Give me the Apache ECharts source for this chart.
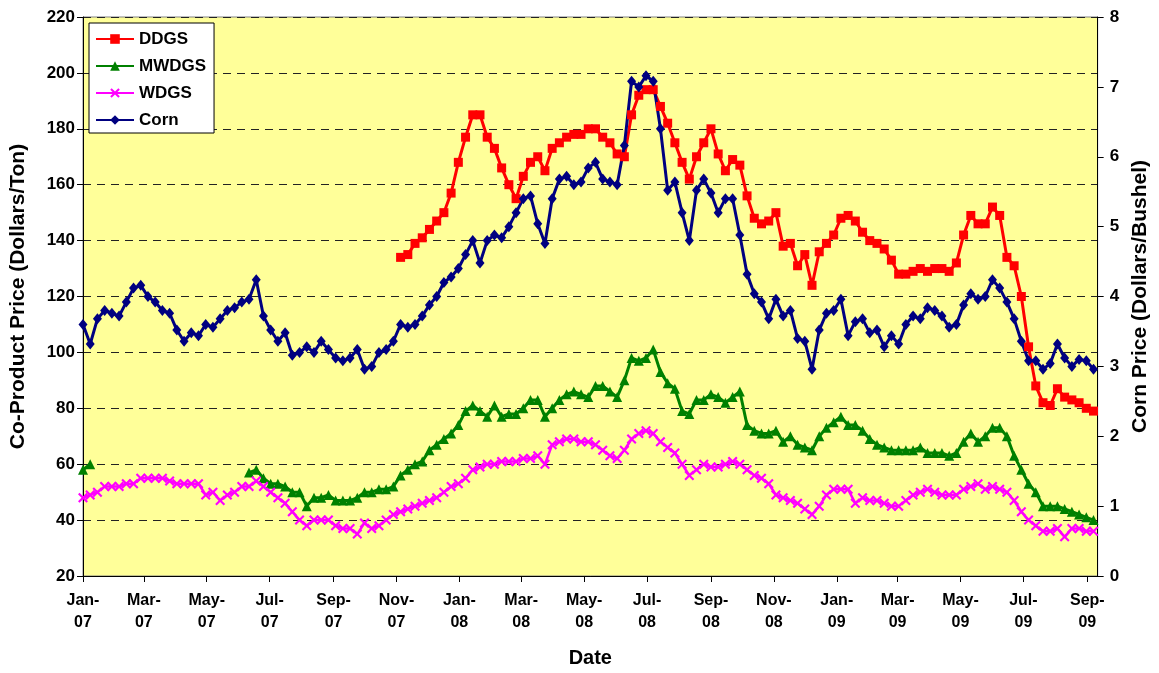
<!DOCTYPE html>
<html>
<head>
<meta charset="utf-8">
<script src="https://cdn.jsdelivr.net/npm/echarts@6/dist/echarts.min.js"></script>
<style>
html,body{margin:0;padding:0;background:#fff;overflow:hidden;}
#chart{width:1159px;height:673px;}
</style>
</head>
<body>
<div id="chart"></div>
<script>
// ---- sampling schedule (weekly observations) ----
const firstWeek = '2007-01-01';
const weekCount = 141;
const axisStart = '2007-01-01';
const axisEnd = '2009-09-11';

// ---- x tick positions and labels ----
const tickDates = ['2007-01-01','2007-03-01','2007-05-01','2007-07-01','2007-09-01','2007-11-01',
  '2008-01-01','2008-03-01','2008-05-01','2008-07-01','2008-09-01','2008-11-01',
  '2009-01-01','2009-03-01','2009-05-01','2009-07-01','2009-09-01'];
const tickLabels = ['Jan-\n07','Mar-\n07','May-\n07','Jul-\n07','Sep-\n07','Nov-\n07',
  'Jan-\n08','Mar-\n08','May-\n08','Jul-\n08','Sep-\n08','Nov-\n08',
  'Jan-\n09','Mar-\n09','May-\n09','Jul-\n09','Sep-\n09'];

// ---- series values ($/ton; corn in $/bushel) ----
const ddgs = [
  null,null,null,null,null,null,null,null,null,null,
  null,null,null,null,null,null,null,null,null,null,
  null,null,null,null,null,null,null,null,null,null,
  null,null,null,null,null,null,null,null,null,null,
  null,null,null,null,
  134,135,139,141,144,147,150,157,168,177,
  185,185,177,173,166,160,155,163,168,170,
  165,173,175,177,178,178,180,180,177,175,
  171,170,185,192,194,194,188,182,175,168,
  162,170,175,180,171,165,169,167,156,148,
  146,147,150,138,139,131,135,124,136,139,
  142,148,149,147,143,140,139,137,133,128,
  128,129,130,129,130,130,129,132,142,149,
  146,146,152,149,134,131,120,102,88,82,
  81,87,84,83,82,80,79];
const mwdgs = [
  58,60,
  null,null,null,null,null,null,null,null,null,null,
  null,null,null,null,null,null,null,null,null,null,null,
  57,58,55,53,53,52,50,
  50,45,48,48,49,47,47,47,48,50,
  50,51,51,52,56,58,60,61,65,67,
  69,71,74,79,81,79,77,81,77,78,
  78,80,83,83,77,80,83,85,86,85,
  84,88,88,86,84,90,98,97,98,101,
  93,89,87,79,78,83,83,85,84,82,
  84,86,74,72,71,71,72,68,70,67,
  66,65,70,73,75,77,74,74,72,69,
  67,66,65,65,65,65,66,64,64,64,
  63,64,68,71,68,70,73,73,70,63,
  58,53,50,45,45,45,44,43,42,41,
  40];
const wdgs = [
  48,49,50,52,52,52,53,53,55,55,
  55,55,54,53,53,53,53,49,50,47,
  49,50,52,52,54,52,50,48,46,43,
  40,38,40,40,40,38,37,37,35,39,
  37,38,40,42,43,44,45,46,47,48,
  50,52,53,55,58,59,60,60,61,61,
  61,62,62,63,60,67,68,69,69,68,
  68,67,65,63,62,65,69,71,72,71,
  68,66,64,60,56,58,60,59,59,60,
  61,60,58,56,55,53,49,48,47,46,
  44,42,45,49,51,51,51,46,48,47,
  47,46,45,45,47,49,50,51,50,49,
  49,49,51,52,53,51,52,51,50,47,
  43,40,38,36,36,37,34,37,37,36,
  36];
const corn = [
  3.60,3.32,3.68,3.80,3.76,3.72,3.92,4.12,4.16,4.00,
  3.92,3.80,3.76,3.52,3.36,3.48,3.44,3.60,3.56,3.68,
  3.80,3.84,3.92,3.96,4.24,3.72,3.52,3.36,3.48,3.16,
  3.20,3.28,3.20,3.36,3.24,3.12,3.08,3.12,3.24,2.96,
  3.00,3.20,3.24,3.36,3.60,3.56,3.60,3.72,3.88,4.00,
  4.20,4.28,4.40,4.60,4.80,4.48,4.80,4.88,4.84,5.00,
  5.20,5.40,5.44,5.04,4.76,5.40,5.68,5.72,5.60,5.64,
  5.84,5.92,5.68,5.64,5.60,6.16,7.08,7.00,7.16,7.08,
  6.40,5.52,5.64,5.20,4.80,5.52,5.68,5.48,5.20,5.40,
  5.40,4.88,4.32,4.04,3.92,3.68,3.96,3.72,3.80,3.40,
  3.36,2.96,3.52,3.76,3.80,3.96,3.44,3.64,3.68,3.48,
  3.52,3.28,3.44,3.32,3.60,3.72,3.68,3.84,3.80,3.72,
  3.56,3.60,3.88,4.04,3.96,4.00,4.24,4.12,3.92,3.68,
  3.36,3.08,3.08,2.96,3.04,3.32,3.12,3.00,3.10,3.08,
  2.96];

// ---- build ----
const DAY = 86400000;
function ts(s){ const p = s.split('-').map(Number); return Date.UTC(p[0], p[1]-1, p[2]); }
const t0 = ts(firstWeek);
const weekTimes = [];
for (let i = 0; i < weekCount; i++) weekTimes.push(t0 + i * 7 * DAY);
const tickTimes = tickDates.map(ts);
function pairs(arr){ return arr.map((v, i) => [weekTimes[i], v == null ? '-' : v]); }

const FONT = 'Liberation Sans';
const xSym = 'path://M0,1.5L1.5,0L5,3.5L8.5,0L10,1.5L6.5,5L10,8.5L8.5,10L5,6.5L1.5,10L0,8.5L3.5,5Z';

const chart = echarts.init(document.getElementById('chart'), null, {renderer: 'canvas'});
chart.setOption({
  animation: false,
  backgroundColor: '#ffffff',
  textStyle: {fontFamily: FONT},
  grid: {left: 83, right: 55, top: 17, bottom: 92, show: true,
    backgroundColor: '#FFFF99', borderColor: '#808080', borderWidth: 1},
  legend: {
    orient: 'vertical', left: 89, top: 23,
    backgroundColor: '#ffffff', borderColor: '#000', borderWidth: 1,
    padding: [6, 8, 3, 6], itemWidth: 38, itemHeight: 12, itemGap: 7,
    textStyle: {fontFamily: FONT, fontWeight: 'bold', fontSize: 17, color: '#000', lineHeight: 20},
    data: ['DDGS', 'MWDGS', 'WDGS', 'Corn']
  },
  xAxis: {
    type: 'value', min: ts(axisStart), max: ts(axisEnd),
    name: 'Date', nameLocation: 'middle', nameGap: 72,
    nameTextStyle: {fontFamily: FONT, fontWeight: 'bold', fontSize: 20, color: '#000'},
    axisLine: {show: true, lineStyle: {color: '#000', width: 1}},
    axisTick: {show: true, length: 6, customValues: tickTimes, lineStyle: {color: '#000'}},
    axisLabel: {
      customValues: tickTimes, margin: 14,
      fontFamily: FONT, fontWeight: 'bold', fontSize: 16, color: '#000', lineHeight: 22,
      formatter: function (v) {
        let best = 0, bd = Infinity;
        for (let k = 0; k < tickTimes.length; k++) { const d = Math.abs(tickTimes[k] - v); if (d < bd) { bd = d; best = k; } }
        return tickLabels[best];
      }
    },
    splitLine: {show: false}
  },
  yAxis: [
    {
      type: 'value', min: 20, max: 220, interval: 20, position: 'left',
      name: 'Co-Product Price (Dollars/Ton)', nameLocation: 'middle', nameGap: 54, nameRotate: 90,
      nameTextStyle: {fontFamily: FONT, fontWeight: 'bold', fontSize: 21, color: '#000'},
      axisLine: {show: true, lineStyle: {color: '#000', width: 1}},
      axisTick: {show: true, length: 6, lineStyle: {color: '#000'}},
      axisLabel: {fontFamily: FONT, fontWeight: 'bold', fontSize: 17, color: '#000', margin: 8},
      splitLine: {show: true, lineStyle: {color: '#222', width: 1, type: [8, 6]}}
    },
    {
      type: 'value', min: 0, max: 8, interval: 1, position: 'right',
      name: 'Corn Price (Dollars/Bushel)', nameLocation: 'middle', nameGap: 32, nameRotate: 90,
      nameTextStyle: {fontFamily: FONT, fontWeight: 'bold', fontSize: 21, color: '#000'},
      axisLine: {show: true, lineStyle: {color: '#000', width: 1}},
      axisTick: {show: true, length: 6, lineStyle: {color: '#000'}},
      axisLabel: {fontFamily: FONT, fontWeight: 'bold', fontSize: 17, color: '#000', margin: 12},
      splitLine: {show: false}
    }
  ],
  series: [
    {name: 'DDGS', type: 'line', yAxisIndex: 0, data: pairs(ddgs),
      symbol: 'rect', symbolSize: 9, showAllSymbol: true,
      lineStyle: {color: '#FF0000', width: 3}, itemStyle: {color: '#FF0000'}},
    {name: 'MWDGS', type: 'line', yAxisIndex: 0, data: pairs(mwdgs),
      symbol: 'triangle', symbolSize: 10, showAllSymbol: true,
      lineStyle: {color: '#008000', width: 3}, itemStyle: {color: '#008000'}},
    {name: 'WDGS', type: 'line', yAxisIndex: 0, data: pairs(wdgs),
      symbol: xSym, symbolSize: 10, showAllSymbol: true,
      lineStyle: {color: '#FF00FF', width: 2.5}, itemStyle: {color: '#FF00FF'}},
    {name: 'Corn', type: 'line', yAxisIndex: 1, data: pairs(corn),
      symbol: 'diamond', symbolSize: [9, 11], showAllSymbol: true,
      lineStyle: {color: '#000080', width: 3}, itemStyle: {color: '#000080'}}
  ]
});
</script>
</body>
</html>
